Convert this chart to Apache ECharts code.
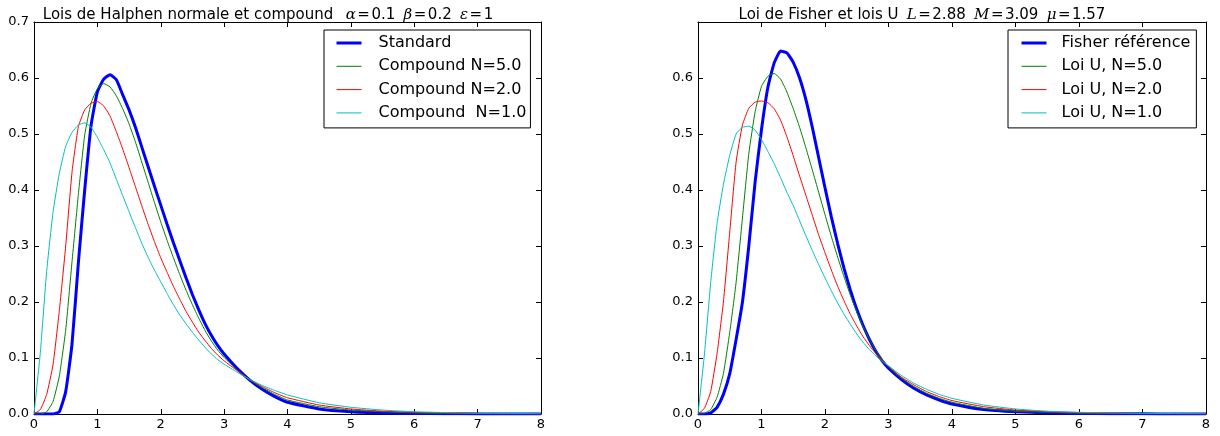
<!DOCTYPE html>
<html>
<head>
<meta charset="utf-8">
<script src="https://cdn.jsdelivr.net/npm/echarts@6/dist/echarts.min.js"></script>
<style>
html,body{margin:0;padding:0;background:#fff;}
#chart{width:1220px;height:436px;}
</style>
</head>
<body>
<div id="chart"></div>
<script>
// shared x grid
const xs = [0,0.1,0.2,0.3,0.4,0.5,0.6,0.7,0.8,0.9,1.0,1.1,1.2,1.3,1.4,1.5,1.6,1.7,1.8,1.9,2.0,2.1,2.2,2.3,2.4,2.5,2.6,2.7,2.8,2.9,3.0,3.2,3.4,3.6,3.8,4.0,4.5,5,5.5,6,6.5,7,7.5,8];

// Left panel: Lois de Halphen
const halphenStandard = [0,0,0,0,0.004,0.04,0.125,0.27,0.40,0.515,0.575,0.598,0.606,0.597,0.570,0.543,0.512,0.477,0.442,0.407,0.373,0.339,0.306,0.274,0.243,0.213,0.186,0.161,0.140,0.122,0.107,0.082,0.061,0.044,0.031,0.021,0.009,0.004,0.002,0.001,0.0005,0.0002,0.0001,0];
const halphenN5 = [0,0,0.004,0.022,0.068,0.15,0.272,0.392,0.498,0.555,0.581,0.590,0.584,0.568,0.545,0.518,0.486,0.450,0.414,0.378,0.343,0.310,0.279,0.249,0.221,0.195,0.171,0.149,0.130,0.114,0.101,0.079,0.061,0.047,0.035,0.025,0.013,0.007,0.004,0.002,0.001,0.0005,0.0002,0.0001];
const halphenN2 = [0,0.008,0.035,0.088,0.185,0.30,0.432,0.513,0.543,0.555,0.558,0.550,0.532,0.504,0.473,0.440,0.406,0.372,0.339,0.308,0.279,0.253,0.228,0.205,0.183,0.164,0.146,0.131,0.117,0.105,0.095,0.078,0.062,0.049,0.038,0.029,0.016,0.009,0.005,0.003,0.0017,0.001,0.0005,0.0003];
const halphenN1 = [0,0.11,0.255,0.36,0.43,0.478,0.503,0.516,0.520,0.512,0.494,0.472,0.448,0.419,0.390,0.361,0.333,0.305,0.280,0.257,0.236,0.215,0.195,0.177,0.161,0.146,0.132,0.119,0.107,0.097,0.089,0.075,0.062,0.051,0.042,0.034,0.020,0.012,0.007,0.004,0.0025,0.0015,0.001,0.0005];

// Right panel: Loi de Fisher et lois U
const fisherRef = [0,0,0.002,0.012,0.035,0.072,0.133,0.20,0.30,0.415,0.508,0.583,0.627,0.648,0.645,0.628,0.600,0.561,0.512,0.458,0.404,0.352,0.304,0.260,0.221,0.187,0.158,0.133,0.112,0.095,0.082,0.062,0.046,0.034,0.025,0.018,0.008,0.004,0.002,0.001,0.0005,0.0003,0.0001,0.0001];
const loiU5 = [0,0.001,0.008,0.03,0.072,0.146,0.235,0.35,0.465,0.54,0.585,0.603,0.608,0.598,0.575,0.545,0.512,0.475,0.436,0.396,0.356,0.317,0.280,0.245,0.212,0.182,0.156,0.133,0.114,0.098,0.084,0.064,0.049,0.037,0.028,0.021,0.010,0.005,0.003,0.0015,0.001,0.0005,0.0003,0.0002];
const loiU2 = [0,0.01,0.04,0.108,0.20,0.325,0.45,0.516,0.546,0.557,0.559,0.556,0.545,0.525,0.495,0.461,0.425,0.390,0.355,0.320,0.288,0.257,0.228,0.202,0.178,0.157,0.138,0.122,0.108,0.096,0.085,0.066,0.052,0.040,0.031,0.024,0.013,0.007,0.004,0.002,0.0012,0.0008,0.0005,0.0003];
const loiU1 = [0,0.105,0.235,0.34,0.41,0.462,0.5,0.512,0.514,0.507,0.490,0.469,0.447,0.422,0.396,0.372,0.345,0.318,0.292,0.267,0.243,0.220,0.198,0.178,0.160,0.143,0.128,0.115,0.104,0.094,0.086,0.069,0.055,0.044,0.035,0.028,0.016,0.009,0.005,0.003,0.002,0.0012,0.0008,0.0005];

const leftNames = ['Standard','Compound N=5.0','Compound N=2.0','Compound  N=1.0'];
const rightNames = ['Fisher référence','Loi U, N=5.0','Loi U, N=2.0','Loi U, N=1.0'];

const colors = ['#0000ff','#008000','#ff0000','#00bfbf'];
const widths = [3,1,1,1];
const FONT = 'DejaVu Sans';

function pairs(ys){ return xs.map((x,i)=>[x, ys[i]]); }

function xAx(grid, pos, labels){
  return {
    type:'value', gridIndex:grid, position:pos, min:0, max:8, interval:1,
    axisLine:{show:true, onZero:false, lineStyle:{color:'#000', width:1}},
    axisTick:{show:true, inside:true, length:5, lineStyle:{color:'#000'}},
    axisLabel:{show:labels, color:'#000', fontFamily:FONT, fontSize:13, margin:4},
    splitLine:{show:false}
  };
}
function yAx(grid, pos, labels, hideMax){
  return {
    type:'value', gridIndex:grid, position:pos, min:0, max:0.7, interval:0.1,
    axisLine:{show:true, onZero:false, lineStyle:{color:'#000', width:1}},
    axisTick:{show:true, inside:true, length:5, lineStyle:{color:'#000'}},
    axisLabel:{show:labels, color:'#000', fontFamily:FONT, fontSize:13, margin:5,
      showMaxLabel: !hideMax,
      formatter:(v)=>v.toFixed(1)},
    splitLine:{show:false}
  };
}

const leftData = [halphenStandard, halphenN5, halphenN2, halphenN1];
const rightData = [fisherRef, loiU5, loiU2, loiU1];

const series = [];
leftData.forEach((d,i)=>{
  series.push({type:'line', name:leftNames[i], xAxisIndex:0, yAxisIndex:0, data:pairs(d),
    symbol:'none', smooth:0.15, lineStyle:{color:colors[i], width:widths[i]}, itemStyle:{color:colors[i]}});
});
rightData.forEach((d,i)=>{
  series.push({type:'line', name:rightNames[i], xAxisIndex:2, yAxisIndex:2, data:pairs(d),
    symbol:'none', smooth:0.15, lineStyle:{color:colors[i], width:widths[i]}, itemStyle:{color:colors[i]}});
});

function legendCfg(left, names, pad, textPad){
  return {
    orient:'vertical', left:left, top:30,
    data:names.map((n,i)=>({name:n, icon:'inherit', itemStyle:{opacity:0}, lineStyle:{width:widths[i], color:colors[i]}})),
    icon:'inherit',
    itemWidth:25, itemHeight:16, itemGap:7.3,
    padding:pad,
    borderColor:'#000', borderWidth:1, backgroundColor:'#fff',
    textStyle:{color:'#000', fontFamily:FONT, fontSize:16, lineHeight:16, padding:[0,0,0,textPad]},
    selectedMode:false
  };
}

const titleRich = {
  n:{fontFamily:FONT, fontSize:15, fontWeight:'normal', color:'#000'},
  i:{fontFamily:'DejaVu Serif', fontStyle:'italic', fontWeight:'normal', fontSize:15, color:'#000'}
};
const EQ = '\u200A=\u200A';

const option = {
  animation:false,
  backgroundColor:'#fff',
  title:[
    {text:'{n|Lois de Halphen normale et compound}   {i|α}{n|' + EQ + '0.1}  {i|β}{n|' + EQ + '0.2}  {i|ε}{n|' + EQ + '1}',
     left:263, top:3, textAlign:'center', textStyle:{rich:titleRich, fontSize:15, fontWeight:'normal'}},
    {text:'{n|Loi de Fisher et lois U}  {i|L}{n|' + EQ + '2.88}  {i|M}{n|' + EQ + '3.09}  {i|μ}{n|' + EQ + '1.57}',
     left:917, top:3, textAlign:'center', textStyle:{rich:titleRich, fontSize:15, fontWeight:'normal'}}
  ],
  grid:[
    {left:34, right:679, top:22, bottom:22},
    {left:698, right:14, top:22, bottom:22}
  ],
  xAxis:[xAx(0,'bottom',true), xAx(0,'top',false), xAx(1,'bottom',true), xAx(1,'top',false)],
  yAxis:[yAx(0,'left',true,false), yAx(0,'right',false,false), yAx(1,'left',true,true), yAx(1,'right',false,false)],
  legend:[legendCfg(324, leftNames, [5,4,7,11], 12), legendCfg(1008, rightNames, [5,6,7,12], 10)],
  series:series
};

const chart = echarts.init(document.getElementById('chart'), null, {renderer:'canvas'});
chart.setOption(option);
</script>
</body>
</html>
